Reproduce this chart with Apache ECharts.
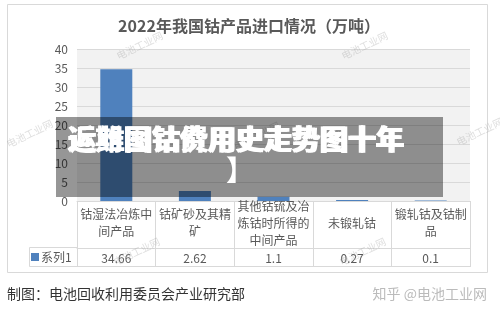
<!DOCTYPE html>
<html>
<head>
<meta charset="utf-8">
<script src="https://cdn.jsdelivr.net/npm/echarts@6/dist/echarts.min.js"></script>
<style>
  html, body { margin: 0; padding: 0; background: #fff; }
  #chart { width: 500px; height: 315px; }
</style>
</head>
<body>
<div id="chart"></div>
<script>
// 2022年我国钴产品进口情况
const categories = [
  '钴湿法冶炼中\n间产品',
  '钴矿砂及其精\n矿',
  '其他钴锍及冶\n炼钴时所得的\n中间产品',
  '未锻轧钴',
  '锻轧钴及钴制\n品'
]
const values = [34.66, 2.62, 1.1, 0.27, 0.1]
const yTicks = { min: 0, max: 40, interval: 5 }

const gridColor = '#d9d9d9'
const textColor = '#595959'
const fontFamily = '"Noto Sans CJK SC", "Noto Sans", sans-serif'

// faint watermarks of the source image
const watermarks = [
  [115, 52], [340, 52], [5, 140], [232, 142], [455, 138], [112, 258], [338, 258]
].map(p => ({
  type: 'text',
  x: p[0],
  y: p[1],
  rotation: Math.PI / 7,
  z: 50,
  style: {
    text: '电池工业网',
    fill: 'rgba(160,160,160,0.35)',
    font: '10px ' + fontFamily
  }
}))

const bannerFont = '900 28px ' + fontFamily

const option = {
  backgroundColor: '#fff',
  animation: false,
  textStyle: { fontFamily },
  title: {
    text: '2022年我国钴产品进口情况（万吨）',
    left: 244,
    textAlign: 'center',
    top: 13,
    textStyle: { fontSize: 16, fontWeight: 'bold', color: textColor, fontFamily }
  },
  legend: {
    left: 31,
    top: 251,
    padding: 0,
    itemWidth: 8,
    itemHeight: 8,
    itemGap: 4,
    icon: 'rect',
    textStyle: { fontSize: 12, color: textColor, padding: [0, 0, 0, -3] },
    data: ['系列1']
  },
  grid: {
    left: 77,
    right: 30,
    top: 49,
    bottom: 114,
    show: true,
    backgroundColor: '#f2f2f2',
    borderWidth: 0
  },
  xAxis: [
    {
      type: 'category',
      data: categories,
      axisLine: { show: true, lineStyle: { color: gridColor } },
      axisTick: { show: true, length: 47, alignWithLabel: false, interval: 0, lineStyle: { color: gridColor } },
      axisLabel: {
        interval: 0,
        color: textColor,
        fontSize: 12,
        lineHeight: 17,
        verticalAlign: 'middle',
        margin: 22
      }
    },
    {
      type: 'category',
      data: categories,
      position: 'bottom',
      offset: 47,
      axisLine: { show: true, lineStyle: { color: gridColor } },
      axisTick: { show: true, length: 19, alignWithLabel: false, interval: 0, lineStyle: { color: gridColor } },
      axisLabel: {
        interval: 0,
        color: textColor,
        fontSize: 12,
        verticalAlign: 'middle',
        margin: 10,
        formatter: (v, i) => String(values[i])
      }
    }
  ],
  yAxis: {
    type: 'value',
    min: yTicks.min,
    max: yTicks.max,
    interval: yTicks.interval,
    axisLine: { show: false },
    axisTick: { show: false },
    axisLabel: { color: textColor, fontSize: 12, margin: 9 },
    splitLine: { lineStyle: { color: gridColor } }
  },
  series: [
    {
      name: '系列1',
      type: 'bar',
      data: values,
      barWidth: 32,
      itemStyle: { color: '#4f81bd' }
    }
  ],
  graphic: [
    // outer frame
    { type: 'rect', shape: { x: 7.5, y: 4.5, width: 480, height: 268 }, z: -1,
      style: { fill: 'none', stroke: gridColor, lineWidth: 1 } },
    // legend cell + bottom of table
    { type: 'polyline', shape: { points: [[77, 247.5], [29.5, 247.5], [29.5, 266.5], [470, 266.5]] },
      style: { fill: 'none', stroke: gridColor, lineWidth: 1 } },
    ...watermarks,
    // dark banner laid over the picture
    { type: 'rect', shape: { x: 56, y: 117, width: 387, height: 80 }, z: 100,
      style: { fill: 'rgba(0,0,0,0.41)' } },
    { type: 'text', x: 67, y: 125, z: 101,
      style: { text: '近期国钴价用史走势图十年', fill: '#fff', font: bannerFont } },
    { type: 'text', x: 69, y: 125, z: 101,
      style: { text: '运维图钴费用史走势图十年', fill: '#fff', font: bannerFont } },
    { type: 'text', x: 226, y: 156, z: 101,
      style: { text: '】', fill: '#fff', font: bannerFont } },
    // footer
    { type: 'text', x: 7, y: 287,
      style: { text: '制图：电池回收利用委员会产业研究部', fill: '#333', font: '14px ' + fontFamily } },
    { type: 'text', x: 487, y: 287,
      style: { text: '知乎 @电池工业网', fill: '#bbb', font: '14px ' + fontFamily, align: 'right' } }
  ]
}

const chart = echarts.init(document.getElementById('chart'))
chart.setOption(option)
</script>
</body>
</html>
